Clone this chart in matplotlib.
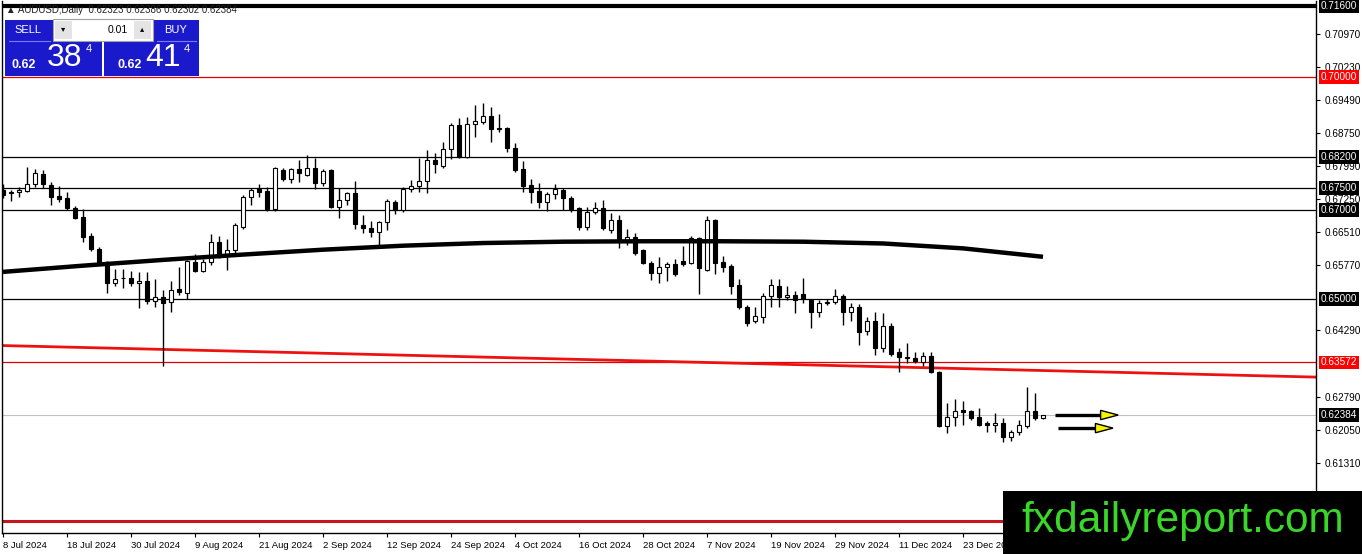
import matplotlib
matplotlib.use('Agg')
import matplotlib.pyplot as plt
from matplotlib.patches import Rectangle, Polygon
import numpy as np

plt.rcParams['font.family'] = ['Liberation Sans', 'DejaVu Sans']

# AUDUSD daily candles, 8 Jul 2024 onwards (one entry per trading day)
opens = [0.6745, 0.6738, 0.6740, 0.6743, 0.6759, 0.6782, 0.6757, 0.6732, 0.6727, 0.6705,
         0.6685, 0.6642, 0.6613, 0.6583, 0.6537, 0.6548, 0.6547, 0.6536, 0.6541, 0.6496,
         0.6505, 0.6494, 0.6522, 0.6514, 0.6584, 0.6563, 0.6583, 0.6628, 0.6597, 0.6610,
         0.6661, 0.6730, 0.6748, 0.6743, 0.6702, 0.6790, 0.6770, 0.6793, 0.6780, 0.6795,
         0.6761, 0.6790, 0.6707, 0.6722, 0.6738, 0.6667, 0.6660, 0.6651, 0.6673, 0.6718,
         0.6700, 0.6748, 0.6754, 0.6765, 0.6813, 0.6800, 0.6838, 0.6892, 0.6820, 0.6894,
         0.6899, 0.6912, 0.6885, 0.6885, 0.6840, 0.6793, 0.6757, 0.6743, 0.6718, 0.6736,
         0.6745, 0.6727, 0.6705, 0.6662, 0.6696, 0.6705, 0.6655, 0.6678, 0.6631, 0.6640,
         0.6610, 0.6581, 0.6558, 0.6572, 0.6579, 0.6586, 0.6581, 0.6637, 0.6565, 0.6678,
         0.6583, 0.6574, 0.6531, 0.6482, 0.6450, 0.6459, 0.6507, 0.6529, 0.6504, 0.6509,
         0.6511, 0.6498, 0.6470, 0.6491, 0.6493, 0.6507, 0.6471, 0.6482, 0.6428, 0.6450,
         0.6389, 0.6439, 0.6380, 0.6370, 0.6367, 0.6358, 0.6371, 0.6335, 0.6214, 0.6234,
         0.6250, 0.6248, 0.6234, 0.6221, 0.6216, 0.6221, 0.6189, 0.6200, 0.6214, 0.6248,
         0.62323]
highs = [0.6760, 0.6746, 0.6752, 0.6797, 0.6793, 0.6791, 0.6764, 0.6755, 0.6741, 0.6709,
         0.6703, 0.6649, 0.6617, 0.6585, 0.6567, 0.6567, 0.6563, 0.6561, 0.6561, 0.6545,
         0.6520, 0.6540, 0.6573, 0.6588, 0.6602, 0.6590, 0.6646, 0.6642, 0.6635, 0.6672,
         0.6734, 0.6750, 0.6760, 0.6752, 0.6797, 0.6795, 0.6795, 0.6813, 0.6824, 0.6818,
         0.6793, 0.6793, 0.6750, 0.6741, 0.6765, 0.6689, 0.6676, 0.6676, 0.6725, 0.6723,
         0.6752, 0.6768, 0.6818, 0.6836, 0.6829, 0.6854, 0.6896, 0.6908, 0.6910, 0.6937,
         0.6942, 0.6933, 0.6917, 0.6887, 0.6851, 0.6811, 0.6770, 0.6761, 0.6741, 0.6759,
         0.6750, 0.6732, 0.6707, 0.6707, 0.6718, 0.6723, 0.6694, 0.6689, 0.6658, 0.6649,
         0.6613, 0.6586, 0.6595, 0.6583, 0.6590, 0.6619, 0.6642, 0.6640, 0.6687, 0.6680,
         0.6597, 0.6579, 0.6545, 0.6487, 0.6482, 0.6513, 0.6545, 0.6545, 0.6529, 0.6518,
         0.6547, 0.6500, 0.6498, 0.6500, 0.6523, 0.6511, 0.6491, 0.6489, 0.6459, 0.6470,
         0.6468, 0.6446, 0.6389, 0.6400, 0.6380, 0.6380, 0.6380, 0.6338, 0.6266, 0.6275,
         0.6270, 0.6250, 0.6254, 0.6225, 0.6243, 0.6232, 0.6205, 0.6227, 0.6302, 0.6288,
         0.62386]
lows = [0.6727, 0.6721, 0.6730, 0.6742, 0.6752, 0.6750, 0.6712, 0.6718, 0.6700, 0.6680,
        0.6628, 0.6608, 0.6581, 0.6513, 0.6529, 0.6524, 0.6529, 0.6480, 0.6489, 0.6482,
        0.6350, 0.6470, 0.6508, 0.6500, 0.6561, 0.6561, 0.6576, 0.6592, 0.6565, 0.6603,
        0.6658, 0.6712, 0.6730, 0.6698, 0.6698, 0.6766, 0.6761, 0.6763, 0.6778, 0.6748,
        0.6754, 0.6705, 0.6682, 0.6712, 0.6657, 0.6649, 0.6640, 0.6622, 0.6655, 0.6691,
        0.6696, 0.6741, 0.6741, 0.6739, 0.6784, 0.6795, 0.6815, 0.6818, 0.6818, 0.6865,
        0.6894, 0.6854, 0.6876, 0.6831, 0.6786, 0.6741, 0.6716, 0.6705, 0.6698, 0.6725,
        0.6700, 0.6696, 0.6655, 0.6655, 0.6691, 0.6655, 0.6649, 0.6615, 0.6622, 0.6599,
        0.6579, 0.6543, 0.6536, 0.6540, 0.6552, 0.6575, 0.6579, 0.6511, 0.6563, 0.6556,
        0.6561, 0.6511, 0.6477, 0.6438, 0.6445, 0.6445, 0.6482, 0.6482, 0.6498, 0.6468,
        0.6491, 0.6434, 0.6459, 0.6486, 0.6489, 0.6441, 0.6450, 0.6396, 0.6419, 0.6373,
        0.6380, 0.6371, 0.6335, 0.6355, 0.6355, 0.6348, 0.6333, 0.6212, 0.6198, 0.6214,
        0.6216, 0.6227, 0.6214, 0.6201, 0.6201, 0.6178, 0.6180, 0.6194, 0.6209, 0.6227,
        0.62302]
closes = [0.6735, 0.6742, 0.6745, 0.6759, 0.6784, 0.6759, 0.6730, 0.6725, 0.6705, 0.6682,
          0.6640, 0.6613, 0.6583, 0.6536, 0.6545, 0.6547, 0.6536, 0.6541, 0.6496, 0.6505,
          0.6490, 0.6521, 0.6515, 0.6586, 0.6563, 0.6583, 0.6628, 0.6595, 0.6610, 0.6667,
          0.6730, 0.6745, 0.6740, 0.6702, 0.6795, 0.6770, 0.6793, 0.6784, 0.6795, 0.6761,
          0.6788, 0.6707, 0.6723, 0.6738, 0.6668, 0.6660, 0.6651, 0.6673, 0.6720, 0.6700,
          0.6748, 0.6754, 0.6765, 0.6813, 0.6804, 0.6838, 0.6892, 0.6820, 0.6894, 0.6901,
          0.6912, 0.6883, 0.6883, 0.6840, 0.6791, 0.6754, 0.6741, 0.6718, 0.6736, 0.6747,
          0.6727, 0.6702, 0.6662, 0.6696, 0.6705, 0.6659, 0.6678, 0.6628, 0.6640, 0.6604,
          0.6581, 0.6558, 0.6572, 0.6579, 0.6556, 0.6579, 0.6637, 0.6570, 0.6678, 0.6581,
          0.6572, 0.6529, 0.6482, 0.6445, 0.6461, 0.6507, 0.6532, 0.6505, 0.6509, 0.6498,
          0.6500, 0.6470, 0.6491, 0.6493, 0.6507, 0.6471, 0.6482, 0.6425, 0.6450, 0.6389,
          0.6439, 0.6377, 0.6369, 0.6367, 0.6360, 0.6371, 0.6335, 0.6214, 0.6234, 0.6248,
          0.6245, 0.6232, 0.6216, 0.6216, 0.6221, 0.6189, 0.6200, 0.6216, 0.6248, 0.6232,
          0.62384]

date_labels = ['8 Jul 2024', '18 Jul 2024', '30 Jul 2024', '9 Aug 2024', '21 Aug 2024',
               '2 Sep 2024', '12 Sep 2024', '24 Sep 2024', '4 Oct 2024', '16 Oct 2024',
               '28 Oct 2024', '7 Nov 2024', '19 Nov 2024', '29 Nov 2024', '11 Dec 2024',
               '23 Dec 2024']

# moving average
ma_bars = [0, 10, 20, 30, 40, 50, 60, 70, 80, 90, 100, 110, 120, 130]
ma_vals = [0.6561, 0.6575, 0.6588, 0.6600, 0.6611, 0.6620, 0.6626, 0.6629, 0.6630,
           0.6630, 0.6629, 0.6625, 0.6614, 0.6595]

# drawn objects
trend_bars = [0, 164]
trend_vals = [0.6395, 0.6324]
black_levels = [0.682, 0.675, 0.670, 0.650]
red_levels = [0.700, 0.63572]
top_level = 0.716
bottom_level = 0.600
bid = 0.62384
arrow_from = [131.5, 131.9]
arrow_to = [139.4, 138.75]
arrow_at = [0.62385, 0.6209]

plain_ticks = [0.70970, 0.70230, 0.69490, 0.68750, 0.67990, 0.67250, 0.66510,
               0.65770, 0.64290, 0.62790, 0.62050, 0.61310]
boxed_black = [0.716, 0.682, 0.675, 0.670, 0.650, 0.62384]
boxed_red = [0.700, 0.63572]

W, H = 1362, 554
fig = plt.figure(figsize=(W / 100, H / 100), dpi=100)
ax = fig.add_axes([2 / W, (H - 533) / H, (1316 - 2) / W, (533 - 1) / H])
ax.set_xlim(-0.125, 164.125)
ax.set_ylim(0.59727, 0.71713)

n = len(opens)
x = np.arange(n)
o = np.array(opens)
c = np.array(closes)
ax.vlines(x, lows, highs, color='black', lw=1.0, zorder=3)
bottoms = np.minimum(o, c)
heights = np.maximum(np.abs(c - o), 0.00012)
fc = ['white' if cc >= oo else 'black' for oo, cc in zip(o, c)]
ax.bar(x, heights, bottom=bottoms, width=0.62, color=fc, edgecolor='black', lw=0.8, zorder=4)

ax.plot(ma_bars, ma_vals, color='black', lw=3.2, zorder=5, solid_capstyle='butt')

for lv in black_levels:
    ax.axhline(lv, color='black', lw=0.9, zorder=2)
for lv in red_levels:
    ax.axhline(lv, color='#e00000', lw=0.9, zorder=2)
ax.axhline(top_level, color='black', lw=3, zorder=2)
ax.axhline(bottom_level, color='#c4161c', lw=2.2, zorder=2)
ax.axhline(bid, color='#c0c0c0', lw=0.8, zorder=1)
ax.plot(trend_bars, trend_vals, color='#ee1111', lw=2, zorder=2)

for x0, x1, yv in zip(arrow_from, arrow_to, arrow_at):
    head = 2.2
    ax.plot([x0, x1 - head], [yv, yv], color='black', lw=2.4, zorder=6, solid_capstyle='butt')
    tri = Polygon([[x1 - head, yv + 0.00105], [x1, yv], [x1 - head, yv - 0.00105]],
                  closed=True, fc='#f5f500', ec='black', lw=1, zorder=7)
    ax.add_patch(tri)

# axes and ticks, MT4 style
ax.spines['top'].set_visible(False)
for s in ['left', 'right', 'bottom']:
    ax.spines[s].set_linewidth(1.0)
ax.set_xticks(range(0, 8 * len(date_labels), 8))
ax.set_xticklabels(date_labels, fontsize=6.8)
for lbl in ax.get_xticklabels():
    lbl.set_ha('left')
ax.tick_params(axis='x', length=3, width=0.8, pad=3)
ax.yaxis.tick_right()
ax.set_yticks(plain_ticks)
ax.set_yticklabels(['%.5f' % v for v in plain_ticks], fontsize=7.2)
ax.tick_params(axis='y', length=3, width=0.8, pad=3)

ytr = ax.get_yaxis_transform()
for lv in boxed_black:
    ax.annotate('%.5f' % lv, xy=(1, lv), xycoords=ytr, xytext=(3.5, 0), textcoords='offset points',
                va='center', ha='left', fontsize=7.2, color='white', annotation_clip=False,
                bbox=dict(boxstyle='square,pad=0.18', fc='black', ec='none'))
for lv in boxed_red:
    ax.annotate('%.5f' % lv, xy=(1, lv), xycoords=ytr, xytext=(3.5, 0), textcoords='offset points',
                va='center', ha='left', fontsize=7.2, color='white', annotation_clip=False,
                bbox=dict(boxstyle='square,pad=0.18', fc='#ff0000', ec='none'))

# header and one-click trading panel
def fx(px):
    return px / W

def fy(py):
    return 1 - py / H

fig.text(fx(6), fy(10), '\u25b2 AUDUSD,Daily  0.62323 0.62386 0.62302 0.62384', fontsize=7,
         va='center', ha='left', color='#222222')

blue = '#1a1acc'
def box(x0, y0, x1, y1, color, ec='none', z=10):
    fig.patches.append(Rectangle((fx(x0), fy(y1)), fx(x1) - fx(x0), fy(y0) - fy(y1),
                                 transform=fig.transFigure, fc=color, ec=ec, lw=0.8, zorder=z))

box(5, 20, 102, 76, blue)
box(104, 20, 199, 76, blue)
box(53, 19, 153, 41, 'white', ec='#a0a0a0', z=11)
box(55, 21, 72, 39, '#e4e4e4', z=12)
box(134, 21, 151, 39, '#e4e4e4', z=12)
fig.add_artist(plt.Line2D([fx(9), fx(50)], [fy(41), fy(41)], color='#7a7aff', lw=0.8, zorder=12))
fig.add_artist(plt.Line2D([fx(157), fx(196)], [fy(41), fy(41)], color='#7a7aff', lw=0.8, zorder=12))
fig.text(fx(28), fy(30), 'SELL', color='white', fontsize=8, ha='center', va='center', zorder=13)
fig.text(fx(176), fy(30), 'BUY', color='white', fontsize=8, ha='center', va='center', zorder=13)
fig.text(fx(63), fy(30), '\u25be', color='black', fontsize=6, ha='center', va='center', zorder=13)
fig.text(fx(142), fy(30), '\u25b4', color='black', fontsize=6, ha='center', va='center', zorder=13)
fig.text(fx(128), fy(30), '0.01', color='black', fontsize=7.5, ha='right', va='center', zorder=13)
fig.text(fx(11), fy(65), '0.62', color='white', fontsize=9, weight='bold', ha='left', va='center', zorder=13)
fig.text(fx(47), fy(58), '38', color='white', fontsize=23, ha='left', va='center', zorder=13)
fig.text(fx(86), fy(49), '4', color='white', fontsize=8, ha='left', va='center', zorder=13)
fig.text(fx(117), fy(65), '0.62', color='white', fontsize=9, weight='bold', ha='left', va='center', zorder=13)
fig.text(fx(145), fy(58), '41', color='white', fontsize=23, ha='left', va='center', zorder=13)
fig.text(fx(184), fy(49), '4', color='white', fontsize=8, ha='left', va='center', zorder=13)

# watermark
box(1003, 491, 1362, 554, 'black', z=20)
fig.text(fx(1183), fy(521), 'fxdailyreport.com', color='#3ad62a', fontsize=30.5,
         ha='center', va='center', zorder=21)

fig.savefig('out.png', dpi=100, facecolor='white')
